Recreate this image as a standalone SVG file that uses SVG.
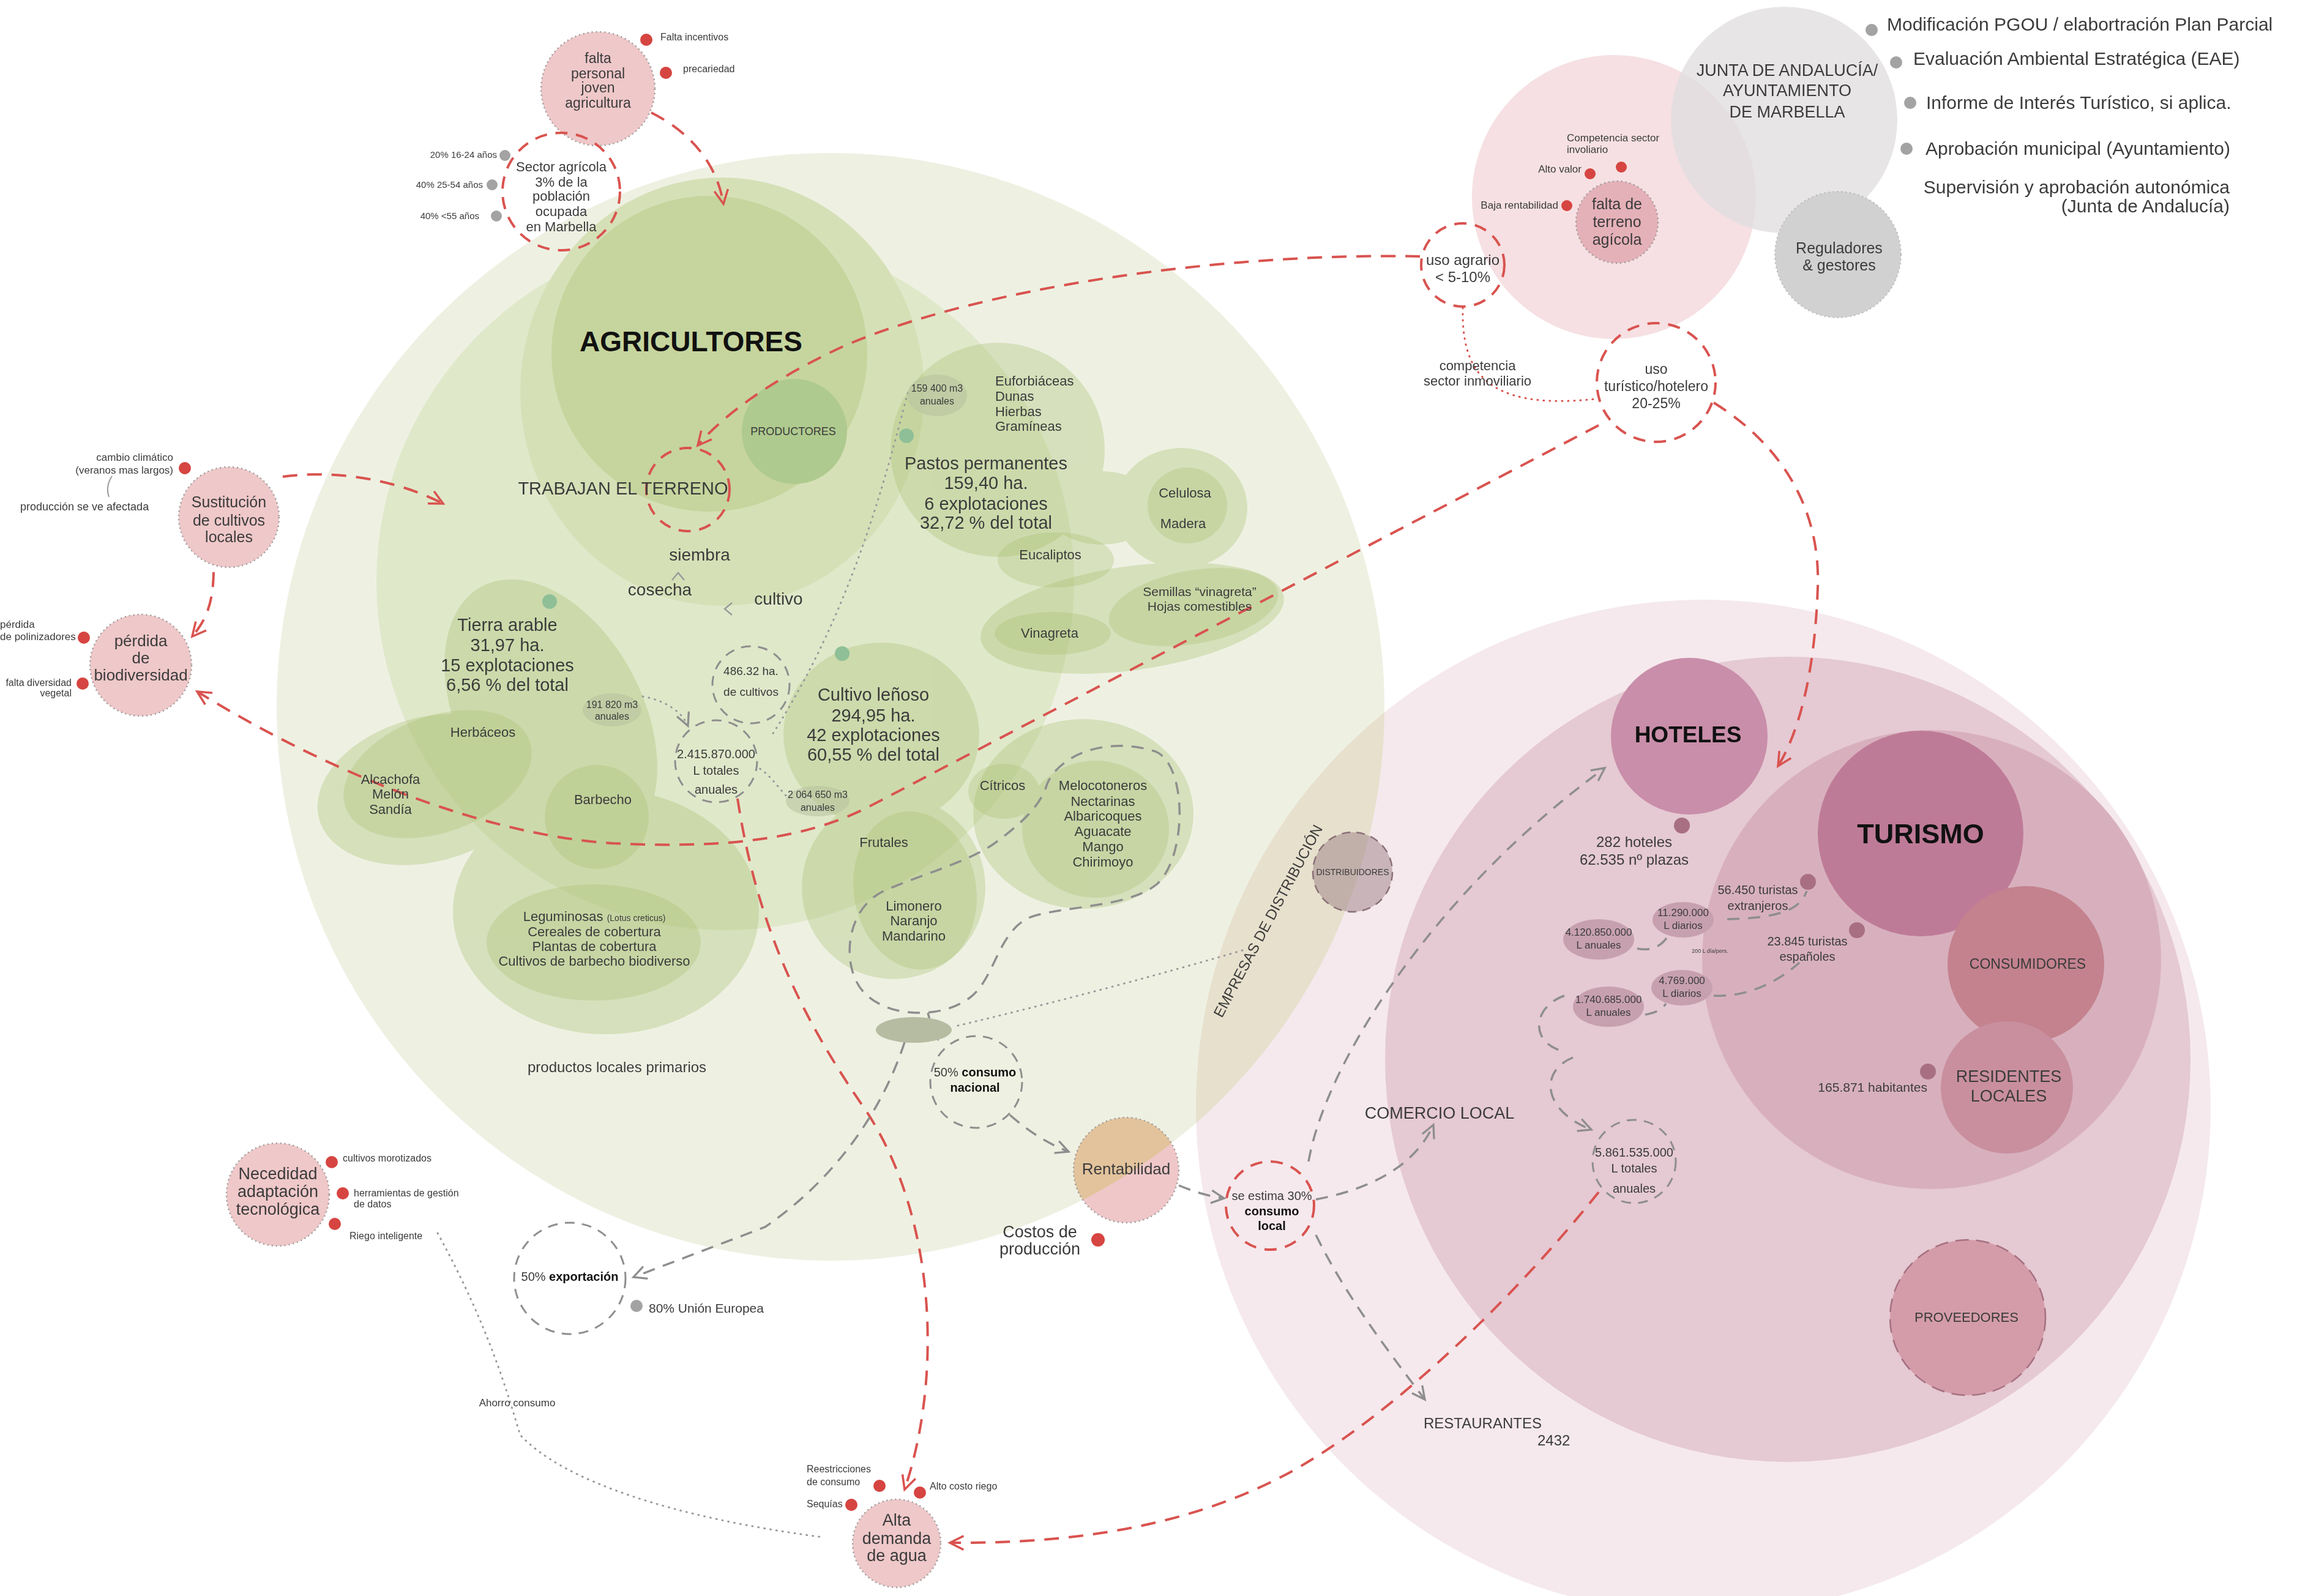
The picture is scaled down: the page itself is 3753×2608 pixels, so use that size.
<svg xmlns="http://www.w3.org/2000/svg" width="3753" height="2608" viewBox="0 0 3753 2608">
<defs>
<style>
text{font-family:"Liberation Sans","DejaVu Sans",sans-serif;fill:#3b3b3b}
.c{text-anchor:middle}
.e{text-anchor:end}
.b{font-weight:bold}
.k{fill:#111}
.rd{fill:none;stroke:#d9534f;stroke-width:4;stroke-dasharray:24 16}
.rdc{fill:none;stroke:#d9534f;stroke-width:4;stroke-dasharray:20 14}
.gd{fill:none;stroke:#8e8e8e;stroke-width:3.5;stroke-dasharray:20 14}
.gdc{fill:none;stroke:#8e8e8e;stroke-width:3;stroke-dasharray:16 12}
.dot{fill:none;stroke:#9a9a9a;stroke-width:3;stroke-dasharray:1 9;stroke-linecap:round}
.rdot{fill:none;stroke:#d9534f;stroke-width:3;stroke-dasharray:1 9;stroke-linecap:round}
.rd0{fill:#d64541}
.gd0{fill:#a3a3a3}
.gn0{fill:#8fbf97}
.pk0{fill:#a86f82}
.iss{fill:#efc8c9;stroke:#9a9a9a;stroke-width:2.5;stroke-dasharray:2 5}
.sm{fill:#b9c3a0;fill-opacity:0.6}
.pe{fill:#c7a0b0}
</style>
<clipPath id="gc"><circle cx="1357" cy="1155" r="905"/></clipPath>
<marker id="mr" viewBox="0 0 20 20" refX="17" refY="10" markerWidth="32" markerHeight="32" markerUnits="userSpaceOnUse" orient="auto"><path d="M3,3 L17,10 L3,17" fill="none" stroke="#d9534f" stroke-width="2.2"/></marker>
<marker id="mg" viewBox="0 0 20 20" refX="17" refY="10" markerWidth="30" markerHeight="30" markerUnits="userSpaceOnUse" orient="auto"><path d="M3,3 L17,10 L3,17" fill="none" stroke="#8e8e8e" stroke-width="2.2"/></marker>
</defs>
<rect width="3753" height="2608" fill="#ffffff"/>

<!-- GREEN REGION -->
<g id="agricultura-area">
<circle cx="1357" cy="1155" r="905" fill="#eef1e2"/>
<circle cx="1185" cy="950" r="570" fill="#e0e8ca"/>
<ellipse cx="1180" cy="640" rx="330" ry="350" fill="#d6e0b7"/>
</g>
<g id="agricultores">
<circle cx="1159" cy="578" r="258" fill="#c6d59d"/>
<text x="1129" y="574" class="c b k" font-size="46">AGRICULTORES</text>
</g>
<g id="productores">
<circle cx="1298" cy="705" r="86" fill="#afca8e"/>
<text x="1296" y="711" class="c" font-size="18">PRODUCTORES</text>
</g>

<g id="blobs-light" opacity="0.32" fill="#a5bd6c">
<ellipse cx="900" cy="1170" rx="150" ry="240" transform="rotate(-28 900 1170)"/>
<ellipse cx="700" cy="1290" rx="185" ry="118" transform="rotate(-15 700 1290)"/>
<ellipse cx="990" cy="1490" rx="250" ry="200"/>
<ellipse cx="1630" cy="735" rx="175" ry="175"/>
<ellipse cx="1930" cy="830" rx="108" ry="98"/>
<ellipse cx="1800" cy="830" rx="90" ry="60"/>
<ellipse cx="1850" cy="1010" rx="250" ry="85" transform="rotate(-8 1850 1010)"/>
<ellipse cx="1440" cy="1200" rx="160" ry="150"/>
<ellipse cx="1770" cy="1330" rx="180" ry="155"/>
<ellipse cx="1460" cy="1450" rx="150" ry="150"/>
</g>
<g id="blobs-dark" opacity="0.3" fill="#a5bd6c">
<ellipse cx="715" cy="1265" rx="160" ry="95" transform="rotate(-20 715 1265)"/>
<ellipse cx="975" cy="1335" rx="85" ry="85"/>
<ellipse cx="970" cy="1540" rx="175" ry="95"/>
<ellipse cx="1725" cy="915" rx="95" ry="45"/>
<ellipse cx="1940" cy="826" rx="65" ry="62"/>
<ellipse cx="1720" cy="1035" rx="95" ry="35"/>
<ellipse cx="1950" cy="992" rx="140" ry="60" transform="rotate(-10 1950 992)"/>
<ellipse cx="1495" cy="1455" rx="100" ry="130" transform="rotate(-10 1495 1455)"/>
<ellipse cx="1790" cy="1355" rx="120" ry="112"/>
<ellipse cx="1640" cy="1293" rx="58" ry="45"/>
</g>

<!-- PINK REGION -->
<g id="turismo-area">
<circle cx="2783" cy="1809" r="829" fill="#f5e9ed"/>
<circle cx="2783" cy="1809" r="829" fill="#e7e0cd" clip-path="url(#gc)"/>
<circle cx="2921" cy="1731" r="658" fill="#e5c9d3"/>
<circle cx="3156" cy="1568" r="375" fill="#d8b0bd"/>
</g>
<g id="empresas-distribucion">
<text x="2072" y="1513" class="c" font-size="24" transform="rotate(-62 2072 1505)">EMPRESAS DE DISTRIBUCIÓN</text>
</g>

<!-- TOP RIGHT -->
<g id="terreno-area">
<circle cx="2637" cy="322" r="232" fill="#f6e0e3"/>
</g>
<g id="junta">
<circle cx="2915" cy="196" r="185" fill="#e0dedf" fill-opacity="0.78"/>
<text x="2920" y="124" class="c" font-size="27">JUNTA DE ANDALUCÍA/</text>
<text x="2920" y="157" class="c" font-size="27">AYUNTAMIENTO</text>
<text x="2920" y="192" class="c" font-size="27">DE MARBELLA</text>
</g>
<g id="reguladores">
<circle cx="3003" cy="416" r="103" fill="#d2d1d2" stroke="#b5b5b5" stroke-width="2" stroke-dasharray="2 5"/>
<text x="3005" y="414" class="c" font-size="25">Reguladores</text>
<text x="3005" y="442" class="c" font-size="25">&amp; gestores</text>
</g>
<g id="tramites">
<circle cx="3058" cy="49" r="10" class="gd0"/>
<text x="3083" y="50" font-size="30">Modificación PGOU / elabortración Plan Parcial</text>
<circle cx="3098" cy="102" r="10" class="gd0"/>
<text x="3126" y="106" font-size="30">Evaluación Ambiental Estratégica (EAE)</text>
<circle cx="3121" cy="168" r="10" class="gd0"/>
<text x="3147" y="178" font-size="30">Informe de Interés Turístico, si aplica.</text>
<circle cx="3115" cy="243" r="10" class="gd0"/>
<text x="3146" y="253" font-size="30">Aprobación municipal (Ayuntamiento)</text>
<text x="3643" y="316" class="e" font-size="30">Supervisión y aprobación autonómica</text>
<text x="3643" y="347" class="e" font-size="30">(Junta de Andalucía)</text>
</g>

<!-- CONNECTORS -->
<g id="connectors">
<path class="rd" d="M1064,184 C1120,212 1170,260 1182,333" marker-end="url(#mr)"/>
<path class="rd" d="M462,779 C540,768 640,780 724,823" marker-end="url(#mr)"/>
<path class="rd" d="M349,935 C348,990 335,1015 314,1040" marker-end="url(#mr)"/>
<path class="rd" d="M2612,695 L1420,1318 C1300,1380 1150,1385 1000,1378 C800,1365 550,1270 322,1130" marker-end="url(#mr)"/>
<path class="rd" d="M2320,419 C2000,412 1600,470 1380,565 C1260,620 1180,680 1140,728" marker-end="url(#mr)"/>
<path class="rd" d="M2800,658 C2900,720 2975,820 2970,960 C2965,1100 2940,1195 2905,1252" marker-end="url(#mr)"/>
<path class="rd" d="M1205,1305 C1235,1500 1300,1650 1415,1815 C1530,1990 1540,2250 1478,2434" marker-end="url(#mr)"/>
<path class="rd" d="M2612,1948 C2450,2150 2250,2330 2100,2410 C1920,2505 1720,2522 1552,2521" marker-end="url(#mr)"/>
<path class="rdot" d="M2390,503 C2388,600 2420,672 2606,652"/>
<path class="gd" d="M1708,1290 C1720,1240 1800,1200 1888,1228 C1940,1250 1940,1400 1890,1445 C1840,1485 1730,1480 1680,1500 C1630,1525 1625,1600 1585,1630 C1540,1665 1450,1665 1410,1620 C1375,1580 1380,1490 1440,1458 C1500,1430 1580,1410 1625,1378 C1670,1345 1695,1320 1708,1290 Z"/>
<path class="gd" d="M1516,1655 Q1522,1680 1532,1698" marker-end="url(#mg)"/>
<path class="gd" d="M1478,1703 C1440,1820 1360,1930 1250,2005 L1035,2087" marker-end="url(#mg)"/>
<path class="gd" d="M1650,1822 C1680,1848 1710,1868 1746,1882" marker-end="url(#mg)"/>
<path class="gd" d="M1926,1937 C1950,1947 1975,1955 2000,1958" marker-end="url(#mg)"/>
<path class="gd" d="M2138,1898 C2165,1740 2340,1460 2622,1255" marker-end="url(#mg)"/>
<path class="gd" d="M2150,1960 C2230,1945 2310,1910 2342,1838" marker-end="url(#mg)"/>
<path class="gd" d="M2150,2018 C2200,2120 2270,2210 2328,2287" marker-end="url(#mg)"/>
<path class="gd" d="M2556,1627 C2505,1645 2500,1700 2548,1716"/>
<path class="gd" d="M2570,1728 C2515,1750 2520,1815 2600,1846" marker-end="url(#mg)"/>
<path class="gd" d="M2675,1550 C2700,1555 2715,1545 2725,1530"/>
<path class="gd" d="M2688,1658 C2705,1655 2715,1650 2722,1640"/>
<path class="gd" d="M2822,1502 C2900,1500 2940,1490 2952,1456"/>
<path class="gd" d="M2800,1627 C2860,1630 2910,1600 2940,1573"/>
<path class="dot" d="M1565,1676 Q1800,1620 2030,1553"/>
<path class="dot" d="M1483,642 C1445,790 1390,1000 1262,1200"/>
<path class="dot" d="M1050,1138 C1090,1145 1115,1165 1124,1186" marker-end="url(#mg)"/>
<path class="dot" d="M1284,1300 C1268,1282 1256,1265 1240,1255"/>
<path class="dot" d="M715,2015 C800,2170 830,2280 850,2345 C920,2420 1100,2480 1345,2512"/>
<path d="M183,778 Q172,795 178,812" fill="none" stroke="#9a9a9a" stroke-width="2"/>
<path d="M1098,948 L1108,936 L1118,948 M1196,985 L1184,995 L1196,1005" fill="none" stroke="#9a9a9a" stroke-width="2.5"/>
</g>

<!-- GREEN TEXTS -->
<g id="trabajan">
<circle cx="1124" cy="800" r="68" class="rdc"/>
<text x="1018" y="808" class="c" font-size="29">TRABAJAN EL TERRENO</text>
<text x="1143" y="916" class="c" font-size="28">siembra</text>
<text x="1078" y="973" class="c" font-size="28">cosecha</text>
<text x="1272" y="988" class="c" font-size="28">cultivo</text>
</g>
<g id="pastos">
<circle cx="1481" cy="712" r="12" class="gn0"/>
<ellipse cx="1531" cy="646" rx="49" ry="34" class="sm"/>
<text x="1531" y="640" class="c" font-size="16">159 400 m3</text>
<text x="1531" y="661" class="c" font-size="16">anuales</text>
<text x="1626" y="630" font-size="22">Euforbiáceas</text>
<text x="1626" y="655" font-size="22">Dunas</text>
<text x="1626" y="680" font-size="22">Hierbas</text>
<text x="1626" y="704" font-size="22">Gramíneas</text>
<text x="1611" y="767" class="c" font-size="29">Pastos permanentes</text>
<text x="1611" y="799" class="c" font-size="29">159,40 ha.</text>
<text x="1611" y="833" class="c" font-size="29">6 explotaciones</text>
<text x="1611" y="864" class="c" font-size="29">32,72 % del total</text>
<text x="1936" y="813" class="c" font-size="22">Celulosa</text>
<text x="1933" y="863" class="c" font-size="22">Madera</text>
<text x="1716" y="914" class="c" font-size="22">Eucaliptos</text>
<text x="1960" y="974" class="c" font-size="21">Semillas “vinagreta”</text>
<text x="1960" y="998" class="c" font-size="21">Hojas comestibles</text>
<text x="1715" y="1042" class="c" font-size="22">Vinagreta</text>
</g>
<g id="tierra-arable">
<circle cx="898" cy="983" r="12" class="gn0"/>
<text x="829" y="1031" class="c" font-size="29">Tierra arable</text>
<text x="829" y="1064" class="c" font-size="29">31,97 ha.</text>
<text x="829" y="1097" class="c" font-size="29">15 explotaciones</text>
<text x="829" y="1129" class="c" font-size="29">6,56 % del total</text>
<ellipse cx="1000" cy="1160" rx="48" ry="27" class="sm"/>
<text x="1000" y="1157" class="c" font-size="16">191 820 m3</text>
<text x="1000" y="1176" class="c" font-size="16">anuales</text>
<text x="789" y="1204" class="c" font-size="22">Herbáceos</text>
<text x="638" y="1281" class="c" font-size="22">Alcachofa</text>
<text x="638" y="1305" class="c" font-size="22">Melón</text>
<text x="638" y="1330" class="c" font-size="22">Sandía</text>
<text x="985" y="1314" class="c" font-size="22">Barbecho</text>
<text x="971" y="1505" class="c" font-size="22">Leguminosas <tspan font-size="14">(Lotus creticus)</tspan></text>
<text x="971" y="1530" class="c" font-size="22">Cereales de cobertura</text>
<text x="971" y="1554" class="c" font-size="22">Plantas de cobertura</text>
<text x="971" y="1578" class="c" font-size="22">Cultivos de barbecho biodiverso</text>
<text x="1008" y="1752" class="c" font-size="24">productos locales primarios</text>
</g>
<g id="cultivos-total">
<circle cx="1227" cy="1119" r="63" class="gdc"/>
<text x="1227" y="1103" class="c" font-size="19">486.32 ha.</text>
<text x="1227" y="1137" class="c" font-size="19">de cultivos</text>
</g>
<g id="litros-agricultura">
<circle cx="1170" cy="1244" r="67" class="gdc"/>
<text x="1170" y="1239" class="c" font-size="20">2.415.870.000</text>
<text x="1170" y="1266" class="c" font-size="20">L totales</text>
<text x="1170" y="1297" class="c" font-size="20">anuales</text>
</g>
<g id="lenoso">
<circle cx="1376" cy="1068" r="12" class="gn0"/>
<text x="1427" y="1145" class="c" font-size="29">Cultivo leñoso</text>
<text x="1427" y="1179" class="c" font-size="29">294,95 ha.</text>
<text x="1427" y="1211" class="c" font-size="29">42 explotaciones</text>
<text x="1427" y="1243" class="c" font-size="29">60,55 % del total</text>
<ellipse cx="1336" cy="1309" rx="52" ry="25" class="sm"/>
<text x="1336" y="1304" class="c" font-size="16">2 064 650 m3</text>
<text x="1336" y="1325" class="c" font-size="16">anuales</text>
<text x="1638" y="1291" class="c" font-size="22">Cítricos</text>
<text x="1802" y="1291" class="c" font-size="22">Melocotoneros</text>
<text x="1802" y="1317" class="c" font-size="22">Nectarinas</text>
<text x="1802" y="1341" class="c" font-size="22">Albaricoques</text>
<text x="1802" y="1366" class="c" font-size="22">Aguacate</text>
<text x="1802" y="1391" class="c" font-size="22">Mango</text>
<text x="1802" y="1416" class="c" font-size="22">Chirimoyo</text>
<text x="1444" y="1384" class="c" font-size="22">Frutales</text>
<text x="1493" y="1488" class="c" font-size="22">Limonero</text>
<text x="1493" y="1512" class="c" font-size="22">Naranjo</text>
<text x="1493" y="1537" class="c" font-size="22">Mandarino</text>
</g>
<g id="nodo-distribucion">
<ellipse cx="1493" cy="1683" rx="62" ry="21" fill="#b5bca2"/>
</g>
<g id="consumo-nacional">
<circle cx="1595" cy="1768" r="75" class="gdc"/>
<text x="1593" y="1759" class="c" font-size="20">50% <tspan class="b k">consumo</tspan></text>
<text x="1593" y="1784" class="c b k" font-size="20">nacional</text>
</g>
<g id="exportacion">
<circle cx="931" cy="2089" r="91" class="gdc"/>
<text x="931" y="2093" class="c" font-size="20">50% <tspan class="b k">exportación</tspan></text>
<circle cx="1040" cy="2134" r="10" class="gd0"/>
<text x="1060" y="2145" font-size="21">80% Unión Europea</text>
</g>

<!-- ISSUE NODES LEFT -->
<g id="falta-personal">
<circle cx="977" cy="145" r="93" class="iss"/>
<text x="977" y="103" class="c" font-size="23">falta</text>
<text x="977" y="128" class="c" font-size="23">personal</text>
<text x="977" y="151" class="c" font-size="23">joven</text>
<text x="977" y="176" class="c" font-size="23">agricultura</text>
<circle cx="1056" cy="65" r="10" class="rd0"/>
<text x="1079" y="66" font-size="16">Falta incentivos</text>
<circle cx="1088" cy="119" r="10" class="rd0"/>
<text x="1116" y="118" font-size="16">precariedad</text>
</g>
<g id="sector-agricola">
<circle cx="917" cy="313" r="96" class="rdc"/>
<text x="917" y="280" class="c" font-size="22">Sector agrícola</text>
<text x="917" y="305" class="c" font-size="22">3% de la</text>
<text x="917" y="328" class="c" font-size="22">población</text>
<text x="917" y="353" class="c" font-size="22">ocupada</text>
<text x="917" y="378" class="c" font-size="22">en Marbella</text>
<circle cx="825" cy="254" r="9" class="gd0"/>
<text x="812" y="258" class="e" font-size="15">20% 16-24 años</text>
<circle cx="804" cy="302" r="9" class="gd0"/>
<text x="789" y="307" class="e" font-size="15">40% 25-54 años</text>
<circle cx="811" cy="353" r="9" class="gd0"/>
<text x="783" y="358" class="e" font-size="15">40% &lt;55 años</text>
</g>
<g id="sustitucion">
<circle cx="374" cy="845" r="82" class="iss"/>
<text x="374" y="829" class="c" font-size="25">Sustitución</text>
<text x="374" y="859" class="c" font-size="25">de cultivos</text>
<text x="374" y="886" class="c" font-size="25">locales</text>
<circle cx="302" cy="765" r="10" class="rd0"/>
<text x="283" y="753" class="e" font-size="17">cambio climático</text>
<text x="283" y="774" class="e" font-size="17">(veranos mas largos)</text>
<text x="33" y="834" font-size="18">producción se ve afectada</text>
</g>
<g id="perdida-biodiversidad">
<circle cx="230" cy="1087" r="83" class="iss"/>
<text x="230" y="1056" class="c" font-size="26">pérdida</text>
<text x="230" y="1084" class="c" font-size="26">de</text>
<text x="230" y="1112" class="c" font-size="26">biodiversidad</text>
<circle cx="137" cy="1042" r="10" class="rd0"/>
<text x="0" y="1026" font-size="17">pérdida</text>
<text x="0" y="1046" font-size="17">de polinizadores</text>
<circle cx="135" cy="1117" r="10" class="rd0"/>
<text x="117" y="1121" class="e" font-size="16">falta diversidad</text>
<text x="117" y="1138" class="e" font-size="16">vegetal</text>
</g>
<g id="adaptacion-tecnologica">
<circle cx="454" cy="1952" r="84" class="iss"/>
<text x="454" y="1927" class="c" font-size="27">Necedidad</text>
<text x="454" y="1956" class="c" font-size="27">adaptación</text>
<text x="454" y="1985" class="c" font-size="27">tecnológica</text>
<circle cx="542" cy="1899" r="10" class="rd0"/>
<text x="560" y="1898" font-size="16">cultivos morotizados</text>
<circle cx="560" cy="1950" r="10" class="rd0"/>
<text x="578" y="1955" font-size="16">herramientas de gestión</text>
<text x="578" y="1973" font-size="16">de datos</text>
<circle cx="547" cy="2000" r="10" class="rd0"/>
<text x="571" y="2025" font-size="16">Riego inteligente</text>
<text x="845" y="2298" class="c" font-size="17">Ahorro consumo</text>
</g>
<g id="rentabilidad">
<circle cx="1840" cy="1912" r="86" fill="#efc7c8"/>
<circle cx="1840" cy="1912" r="86" fill="#e2c39c" clip-path="url(#gc)"/>
<circle cx="1840" cy="1912" r="86" fill="none" stroke="#9a9a9a" stroke-width="2.5" stroke-dasharray="2 5"/>
<text x="1840" y="1919" class="c" font-size="26">Rentabilidad</text>
<circle cx="1794" cy="2026" r="11" class="rd0"/>
<text x="1699" y="2022" class="c" font-size="27">Costos de</text>
<text x="1699" y="2050" class="c" font-size="27">producción</text>
</g>
<g id="alta-demanda-agua">
<circle cx="1465" cy="2522" r="72" class="iss"/>
<text x="1465" y="2493" class="c" font-size="27">Alta</text>
<text x="1465" y="2523" class="c" font-size="27">demanda</text>
<text x="1465" y="2551" class="c" font-size="27">de agua</text>
<circle cx="1437" cy="2428" r="10" class="rd0"/>
<text x="1318" y="2406" font-size="16">Reestricciones</text>
<text x="1318" y="2427" font-size="16">de consumo</text>
<circle cx="1391" cy="2459" r="10" class="rd0"/>
<text x="1318" y="2463" font-size="16">Sequías</text>
<circle cx="1503" cy="2439" r="10" class="rd0"/>
<text x="1519" y="2434" font-size="16">Alto costo riego</text>
</g>

<!-- TOP RIGHT NODES -->
<g id="falta-terreno">
<circle cx="2642" cy="363" r="67" fill="#e5b1b8" stroke="#9a9a9a" stroke-width="2.5" stroke-dasharray="2 5"/>
<text x="2642" y="342" class="c" font-size="25">falta de</text>
<text x="2642" y="371" class="c" font-size="25">terreno</text>
<text x="2642" y="400" class="c" font-size="25">agícola</text>
<circle cx="2649" cy="273" r="9" class="rd0"/>
<text x="2560" y="231" font-size="17">Competencia sector</text>
<text x="2560" y="250" font-size="17">involiario</text>
<circle cx="2598" cy="284" r="9" class="rd0"/>
<text x="2584" y="282" class="e" font-size="17">Alto valor</text>
<circle cx="2560" cy="336" r="9" class="rd0"/>
<text x="2546" y="341" class="e" font-size="17">Baja rentabilidad</text>
</g>
<g id="uso-agrario">
<circle cx="2390" cy="433" r="68" class="rdc"/>
<text x="2390" y="433" class="c" font-size="24">uso agrario</text>
<text x="2390" y="461" class="c" font-size="24">&lt; 5-10%</text>
<text x="2414" y="605" class="c" font-size="22">competencia</text>
<text x="2414" y="630" class="c" font-size="22">sector inmoviliario</text>
</g>
<g id="uso-turistico">
<circle cx="2706" cy="625" r="97" class="rdc"/>
<text x="2706" y="611" class="c" font-size="23">uso</text>
<text x="2706" y="639" class="c" font-size="23">turístico/hotelero</text>
<text x="2706" y="667" class="c" font-size="23">20-25%</text>
</g>

<!-- PINK NODES -->
<g id="distribuidores">
<circle cx="2210" cy="1425" r="65" fill="#9c7f86" fill-opacity="0.5" stroke="#8a7077" stroke-width="2.5" stroke-dasharray="14 10"/>
<text x="2210" y="1430" class="c" font-size="14">DISTRIBUIDORES</text>
</g>
<g id="hoteles">
<circle cx="2760" cy="1203" r="128" fill="#c98ea9"/>
<text x="2758" y="1213" class="c b k" font-size="37">HOTELES</text>
<circle cx="2748" cy="1349" r="13" class="pk0"/>
<text x="2670" y="1384" class="c" font-size="24">282 hoteles</text>
<text x="2670" y="1413" class="c" font-size="24">62.535 nº plazas</text>
</g>
<g id="turismo">
<circle cx="3138" cy="1362" r="168" fill="#be7b97"/>
<text x="3138" y="1378" class="c b k" font-size="45">TURISMO</text>
<circle cx="2954" cy="1441" r="13" class="pk0"/>
<text x="2872" y="1461" class="c" font-size="20">56.450 turistas</text>
<text x="2872" y="1487" class="c" font-size="20">extranjeros</text>
<circle cx="3034" cy="1520" r="13" class="pk0"/>
<text x="2953" y="1545" class="c" font-size="20">23.845 turistas</text>
<text x="2953" y="1570" class="c" font-size="20">españoles</text>
</g>
<g id="consumo-agua-turismo">
<ellipse cx="2750" cy="1503" rx="50" ry="29" class="pe"/>
<text x="2750" y="1497" class="c" font-size="17">11.290.000</text>
<text x="2750" y="1518" class="c" font-size="17">L diarios</text>
<ellipse cx="2612" cy="1535" rx="58" ry="33" class="pe"/>
<text x="2612" y="1529" class="c" font-size="17">4.120.850.000</text>
<text x="2612" y="1550" class="c" font-size="17">L anuales</text>
<ellipse cx="2748" cy="1614" rx="50" ry="29" class="pe"/>
<text x="2748" y="1608" class="c" font-size="17">4.769.000</text>
<text x="2748" y="1629" class="c" font-size="17">L diarios</text>
<ellipse cx="2628" cy="1645" rx="58" ry="33" class="pe"/>
<text x="2628" y="1639" class="c" font-size="17">1.740.685.000</text>
<text x="2628" y="1660" class="c" font-size="17">L anuales</text>
<text x="2794" y="1557" class="c" font-size="9">200 L día/pers.</text>
</g>
<g id="litros-turismo">
<circle cx="2670" cy="1898" r="68" class="gdc"/>
<text x="2670" y="1890" class="c" font-size="20">5.861.535.000</text>
<text x="2670" y="1916" class="c" font-size="20">L totales</text>
<text x="2670" y="1949" class="c" font-size="20">anuales</text>
</g>
<g id="consumidores">
<circle cx="3310" cy="1576" r="128" fill="#c3828e"/>
<text x="3313" y="1583" class="c" font-size="23">CONSUMIDORES</text>
</g>
<g id="residentes">
<circle cx="3279" cy="1777" r="108" fill="#c98f9f"/>
<text x="3282" y="1768" class="c" font-size="27">RESIDENTES</text>
<text x="3282" y="1800" class="c" font-size="27">LOCALES</text>
<circle cx="3150" cy="1751" r="13" class="pk0"/>
<text x="3149" y="1784" class="e" font-size="21">165.871 habitantes</text>
</g>
<g id="proveedores">
<circle cx="3215" cy="2153" r="127" fill="#d49ca9" stroke="#a57082" stroke-width="2.5" stroke-dasharray="22 12"/>
<text x="3213" y="2160" class="c" font-size="22">PROVEEDORES</text>
</g>
<g id="consumo-local">
<circle cx="2075" cy="1970" r="72" class="rdc"/>
<text x="2078" y="1961" class="c" font-size="20">se estima 30%</text>
<text x="2078" y="1986" class="c b k" font-size="20">consumo</text>
<text x="2078" y="2010" class="c b k" font-size="20">local</text>
</g>
<g id="comercio-local">
<text x="2352" y="1828" class="c" font-size="27">COMERCIO LOCAL</text>
</g>
<g id="restaurantes">
<text x="2326" y="2334" font-size="24">RESTAURANTES</text>
<text x="2512" y="2362" font-size="24">2432</text>
</g>
</svg>
